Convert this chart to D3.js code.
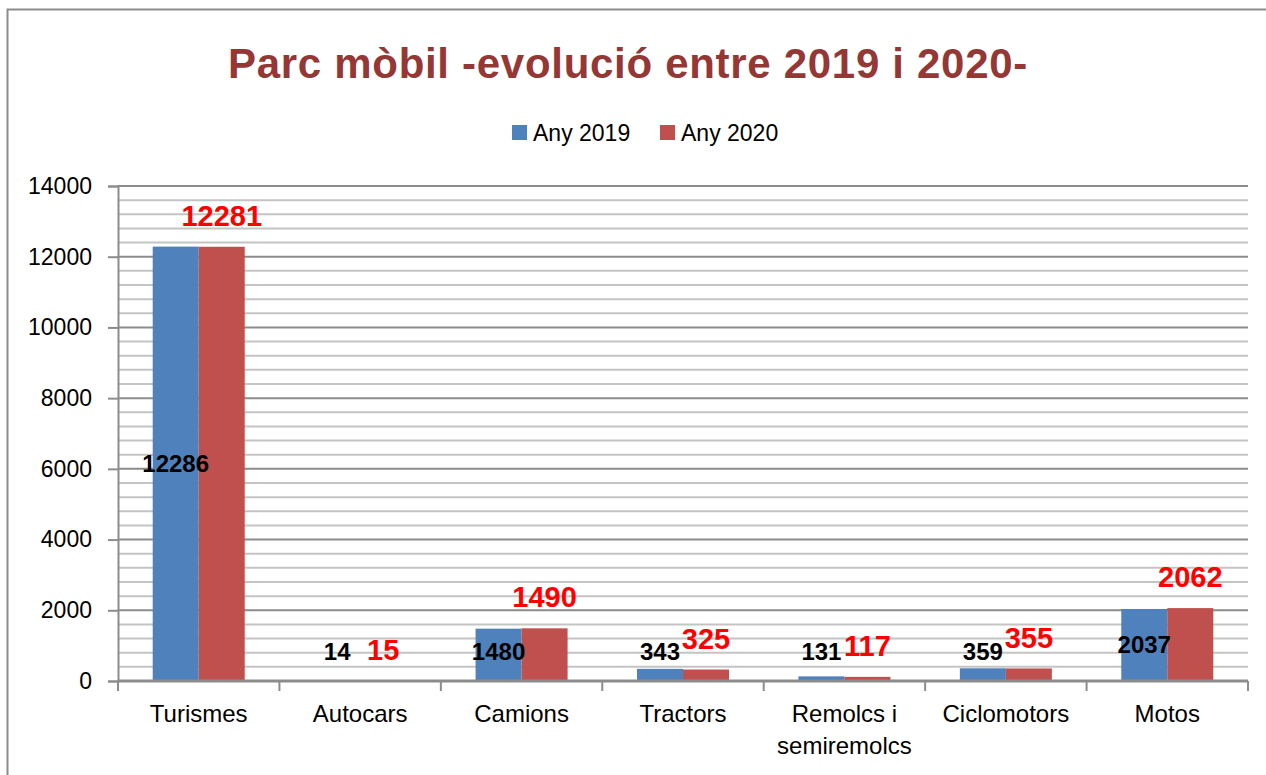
<!DOCTYPE html>
<html>
<head>
<meta charset="utf-8">
<script src="https://cdn.jsdelivr.net/npm/d3@7"></script>
<style>
  body { margin: 0; background: #fff; }
  svg { display: block; font-family: "Liberation Sans", Arial, sans-serif; }
</style>
</head>
<body>
<div id="chart"></div>
<script>
const categories = ["Turismes", "Autocars", "Camions", "Tractors", "Remolcs i\nsemiremolcs", "Ciclomotors", "Motos"]
const seriesNames = ["Any 2019", "Any 2020"]
const any2019 = [12286, 14, 1480, 343, 131, 359, 2037]
const any2020 = [12281, 15, 1490, 325, 117, 355, 2062]
const yTicks = [0, 2000, 4000, 6000, 8000, 10000, 12000, 14000]

const colors = ["#4f81bd", "#c0504d"]

const width = 1266, height = 775
const margin = {top: 186, right: 18, bottom: 94, left: 118}

let svg = d3.select("#chart").append("svg")
    .attr("width", width)
    .attr("height", height)

// outer frame
svg.append("rect")
    .attr("x", 7.5).attr("y", 9.5)
    .attr("width", width + 10).attr("height", height + 10)
    .attr("fill", "none")
    .attr("stroke", "#8c8c8c")
    .attr("stroke-width", 2)

// title
svg.append("text")
    .attr("x", 628).attr("y", 78)
    .attr("text-anchor", "middle")
    .attr("font-size", 42)
    .attr("font-weight", "bold")
    .attr("letter-spacing", 0.7)
    .attr("fill", "#953735")
    .text("Parc mòbil -evolució entre 2019 i 2020-")

// legend
let legendX = [512, 660]
seriesNames.forEach((name, i) => {
    let g = svg.append("g").attr("transform", "translate(" + legendX[i] + ",125)")
    g.append("rect").attr("width", 15).attr("height", 15).attr("fill", colors[i])
    g.append("text").attr("x", 21).attr("y", 7.5).attr("dy", "0.35em")
        .attr("font-size", 23).attr("fill", "#000").text(name)
})

let x0 = d3.scaleBand()
    .domain(categories)
    .range([margin.left, width - margin.right])
    .paddingInner(0.43)
    .paddingOuter(0.215)

let x1 = d3.scaleBand()
    .domain(seriesNames)
    .range([0, x0.bandwidth()])

let y = d3.scaleLinear()
    .domain([0, 14000])
    .range([height - margin.bottom, margin.top])

// minor grid
svg.append("g")
    .selectAll("line")
    .data(d3.range(0, 14001, 400).filter(v => v % 2000 !== 0))
    .enter()
    .append("line")
    .attr("x1", margin.left).attr("x2", width - margin.right)
    .attr("y1", d => y(d)).attr("y2", d => y(d))
    .attr("stroke", "#c4c4c4").attr("stroke-width", 2)

// major grid
svg.append("g")
    .selectAll("line")
    .data(yTicks)
    .enter()
    .append("line")
    .attr("x1", margin.left).attr("x2", width - margin.right)
    .attr("y1", d => y(d)).attr("y2", d => y(d))
    .attr("stroke", "#8c8c8c").attr("stroke-width", 2)

// bars
let rows = categories.map((c, i) => ({cat: c, vals: [any2019[i], any2020[i]]}))

let groups = svg.append("g")
    .selectAll("g")
    .data(rows)
    .enter()
    .append("g")
    .attr("transform", d => "translate(" + x0(d.cat) + ",0)")

groups.selectAll("rect")
    .data(d => d.vals.map((v, i) => ({key: seriesNames[i], v: v, i: i})))
    .enter()
    .append("rect")
    .attr("x", d => x1(d.key))
    .attr("y", d => y(d.v))
    .attr("width", x1.bandwidth())
    .attr("height", d => y(0) - y(d.v))
    .attr("fill", d => colors[d.i])

// y axis
let yAxis = svg.append("g")
    .attr("transform", "translate(" + margin.left + ",0)")
    .call(d3.axisLeft(y).tickValues(yTicks).tickSize(10).tickPadding(16).tickFormat(d3.format("d")))
yAxis.select(".domain").attr("stroke", "#8c8c8c").attr("stroke-width", 2)
yAxis.selectAll(".tick line").attr("stroke", "#8c8c8c").attr("stroke-width", 2)
yAxis.selectAll(".tick text").attr("font-size", 23).attr("fill", "#000")
    .attr("font-family", "'Liberation Sans', Arial, sans-serif")

// x axis line and ticks at category boundaries
svg.append("line")
    .attr("x1", margin.left).attr("x2", width - margin.right)
    .attr("y1", y(0)).attr("y2", y(0))
    .attr("stroke", "#8c8c8c").attr("stroke-width", 3)

svg.append("g")
    .selectAll("line")
    .data(d3.range(categories.length + 1))
    .enter()
    .append("line")
    .attr("x1", i => margin.left + i * x0.step())
    .attr("x2", i => margin.left + i * x0.step())
    .attr("y1", y(0)).attr("y2", y(0) + 10)
    .attr("stroke", "#8c8c8c").attr("stroke-width", 2)

// category labels
let catText = svg.append("g")
    .selectAll("text")
    .data(categories)
    .enter()
    .append("text")
    .attr("x", d => x0(d) + x0.bandwidth() / 2)
    .attr("y", 722)
    .attr("text-anchor", "middle")
    .attr("font-size", 24)
    .attr("fill", "#000")

catText.selectAll("tspan")
    .data(d => d.split("\n"))
    .enter()
    .append("tspan")
    .attr("x", function () { return d3.select(this.parentNode).attr("x") })
    .attr("dy", (d, i) => i === 0 ? 0 : 32)
    .text(d => d)

// value labels 2019 (black, inside bar or just above for short ones)
svg.append("g")
    .selectAll("text")
    .data(rows)
    .enter()
    .append("text")
    .attr("x", d => x0(d.cat) + x1(seriesNames[0]) + x1.bandwidth() / 2)
    .attr("y", d => Math.min((y(d.vals[0]) + y(0)) / 2, y(0) - 29))
    .attr("dy", "0.35em")
    .attr("text-anchor", "middle")
    .attr("font-size", 24)
    .attr("font-weight", "bold")
    .attr("fill", "#000")
    .text(d => d.vals[0])

// value labels 2020 (red, above bar)
svg.append("g")
    .selectAll("text")
    .data(rows)
    .enter()
    .append("text")
    .attr("x", d => x0(d.cat) + x1(seriesNames[1]) + x1.bandwidth() / 2)
    .attr("y", d => y(d.vals[1]) - 31)
    .attr("dy", "0.35em")
    .attr("text-anchor", "middle")
    .attr("font-size", 29)
    .attr("font-weight", "bold")
    .attr("fill", "#ff0000")
    .text(d => d.vals[1])
</script>
</body>
</html>
